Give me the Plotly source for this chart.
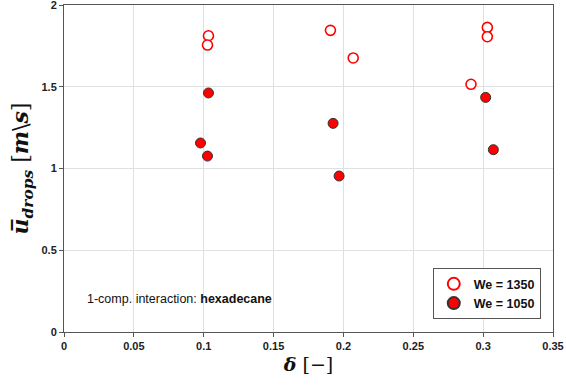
import plotly.graph_objects as go

# We = 1350 (hollow)
x_1350 = [0.1034, 0.1027, 0.1907, 0.2070, 0.2913, 0.3030, 0.3030]
y_1350 = [1.812, 1.755, 1.845, 1.676, 1.515, 1.863, 1.806]
# We = 1050 (filled)
x_1050 = [0.1034, 0.0977, 0.1027, 0.1926, 0.1969, 0.3018, 0.3073]
y_1050 = [1.462, 1.156, 1.076, 1.276, 0.954, 1.435, 1.115]

x_ticks = [0, 0.05, 0.1, 0.15, 0.2, 0.25, 0.3, 0.35]
x_ticklabels = ["0", "0.05", "0.1", "0.15", "0.2", "0.25", "0.3", "0.35"]
y_ticks = [0, 0.5, 1, 1.5, 2]
y_ticklabels = ["0", "0.5", "1", "1.5", "2"]

fig = go.Figure()
fig.add_trace(go.Scatter(
    x=x_1350, y=y_1350, mode="markers", name="We = 1350",
    marker=dict(size=10, color="white", line=dict(color="#ff0000", width=1.6)),
))
fig.add_trace(go.Scatter(
    x=x_1050, y=y_1050, mode="markers", name="We = 1050",
    marker=dict(size=10, color="#ff0000", line=dict(color="#333333", width=1)),
))

axis_common = dict(
    showgrid=True, gridcolor="#e0e0e0", gridwidth=1,
    showline=True, linecolor="#555555", linewidth=1, mirror=True,
    ticks="outside", ticklen=4, tickcolor="#555555",
    tickfont=dict(family="Liberation Sans", size=11, color="#222222", weight="bold"),
    zeroline=False, automargin=False, ticklabeloverflow="allow",
)

fig.update_xaxes(range=[0, 0.35], tickvals=x_ticks, ticktext=x_ticklabels,
                 title=dict(text="<b><i>δ</i></b> [−]",
                            font=dict(family="DejaVu Serif", size=19, color="#111111"),
                            standoff=6),
                 **axis_common)
fig.update_yaxes(range=[0, 2], tickvals=y_ticks, ticktext=y_ticklabels,
                 title=dict(text="<b><i>u̅<sub>drops</sub></i></b> [<b><i>m</i></b>\\<b><i>s</i></b>]",
                            font=dict(family="DejaVu Serif", size=22, color="#111111"),
                            standoff=6),
                 **axis_common)

fig.add_annotation(
    x=0.043, y=0.1, xref="paper", yref="paper", xanchor="left", yanchor="middle",
    text="1-comp. interaction: <b>hexadecane</b>", showarrow=False,
    font=dict(family="Liberation Sans", size=12.5, color="#111111"),
)

fig.update_layout(
    width=566, height=385,
    margin=dict(l=64, r=13, t=5, b=53),
    plot_bgcolor="white", paper_bgcolor="white",
    showlegend=True,
    legend=dict(
        x=0.975, y=0.195, xanchor="right", yanchor="top",
        bordercolor="#555555", borderwidth=1, bgcolor="white",
        font=dict(family="Liberation Sans", size=12.5, color="#111111", weight="bold"),
        itemsizing="constant",
    ),
)

fig.write_html("out.html")
